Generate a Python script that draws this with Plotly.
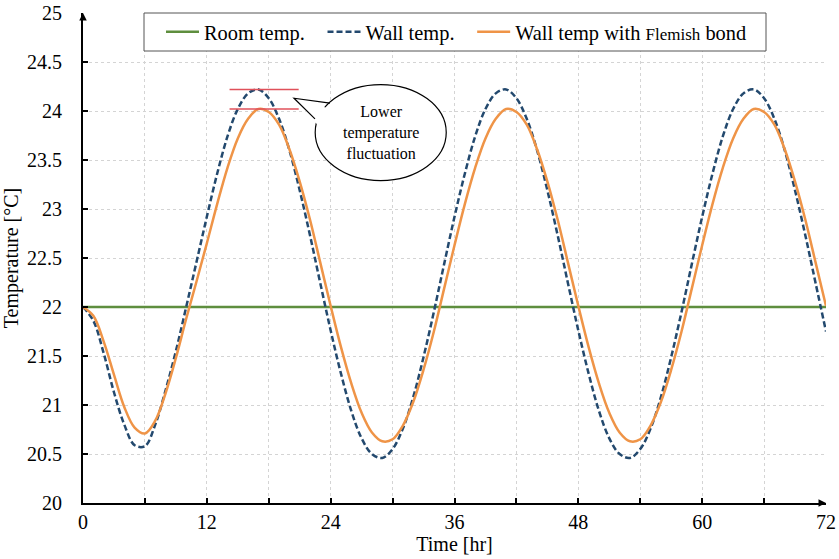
import plotly.graph_objects as go

# ---- data ----
hours = list(range(0, 73))
room_hours = [0, 72]
room_temp = [22.0, 22.0]
wall_temp = [22.00, 21.86, 21.53, 21.13, 20.80, 20.59, 20.58, 20.80, 21.15, 21.55,
             22.00, 22.46, 22.92, 23.36, 23.74, 24.02, 24.18, 24.22, 24.13, 23.92,
             23.60, 23.19, 22.73, 22.24, 21.76, 21.32, 20.94, 20.66, 20.50, 20.46,
             20.55, 20.76, 21.08, 21.49, 21.95, 22.44, 22.92, 23.36, 23.74, 24.02,
             24.18, 24.22, 24.13, 23.92, 23.60, 23.19, 22.73, 22.24, 21.76, 21.32,
             20.94, 20.66, 20.50, 20.46, 20.55, 20.76, 21.08, 21.49, 21.95, 22.44,
             22.92, 23.36, 23.74, 24.02, 24.18, 24.22, 24.13, 23.92, 23.60, 23.19,
             22.73, 22.24, 21.75]
flemish_temp = [22.00, 21.91, 21.65, 21.31, 20.98, 20.77, 20.71, 20.84, 21.12, 21.48,
                21.88, 22.26, 22.65, 23.05, 23.42, 23.72, 23.92, 24.02, 23.99, 23.86,
                23.61, 23.28, 22.89, 22.45, 22.01, 21.59, 21.22, 20.92, 20.72, 20.63,
                20.65, 20.79, 21.03, 21.36, 21.75, 22.19, 22.63, 23.05, 23.42, 23.72,
                23.92, 24.02, 23.99, 23.86, 23.61, 23.28, 22.89, 22.45, 22.01, 21.59,
                21.22, 20.92, 20.72, 20.63, 20.65, 20.79, 21.03, 21.36, 21.75, 22.19,
                22.63, 23.05, 23.42, 23.72, 23.92, 24.02, 23.99, 23.86, 23.61, 23.28,
                22.89, 22.45, 22.01]
GAP = '&nbsp;&nbsp;<span style="font-size:10px">&nbsp;</span>'
series_names = ["Room temp." + GAP, "Wall temp." + GAP,
                'Wall temp with <span style="font-size:17px">Flemish</span> bond']
callout_text = "Lower<br>temperature<br>fluctuation"
x_ticks = [0, 12, 24, 36, 48, 60, 72]

FONT = "Liberation Serif, Times New Roman, serif"
GREEN = "#5E8E3E"
NAVY = "#23496E"
ORANGE = "#EF9447"
RED = "#E0505A"
GRID = "#D4D4D4"

# plot-area geometry (pixels) used to place the legend frame
PLOT_L, PLOT_W, PLOT_T, PLOT_H = 83, 743, 13, 490

def px_x(p):
    return (p - PLOT_L) / PLOT_W

def px_y(p):
    return (PLOT_T + PLOT_H - p) / PLOT_H

fig = go.Figure()
fig.add_trace(go.Scatter(x=room_hours, y=room_temp, mode="lines", name=series_names[0],
                         line=dict(color=GREEN, width=2.5)))
fig.add_trace(go.Scatter(x=hours, y=wall_temp, mode="lines", name=series_names[1],
                         line=dict(color=NAVY, width=2.5, dash="6px,3px", shape="spline", smoothing=1.0)))
fig.add_trace(go.Scatter(x=hours, y=flemish_temp, mode="lines", name=series_names[2],
                         line=dict(color=ORANGE, width=2.5, shape="spline", smoothing=1.0)))

# red peak markers
for level in (max(wall_temp), max(flemish_temp)):
    fig.add_shape(type="line", x0=14.2, x1=20.9, y0=level, y1=level,
                  line=dict(color=RED, width=1.6), layer="above")

# speech bubble
fig.add_shape(type="circle", x0=22.5, x1=35.2, y0=23.29, y1=24.27,
              fillcolor="white", line=dict(color="black", width=1.2), layer="above")
fig.add_shape(type="path", path="M 24.0 24.02 L 20.45 24.13 L 22.8 23.85 Z",
              fillcolor="white", line=dict(width=0), layer="above")
fig.add_shape(type="path", path="M 23.93 24.08 L 20.45 24.13 L 22.48 23.92",
              line=dict(color="black", width=1.2), layer="above")
fig.add_annotation(x=28.85, y=23.78, text=callout_text, showarrow=False,
                   font=dict(family=FONT, size=16, color="black"), align="center")

# legend frame
fig.add_shape(type="rect", xref="paper", yref="paper",
              x0=px_x(144), x1=px_x(766), y0=px_y(51), y1=px_y(13),
              fillcolor="white", line=dict(color="#555555", width=1), layer="above")

# axis arrows
fig.add_annotation(xref="paper", yref="paper", x=0, y=1.0, ax=0, ay=8, text="",
                   showarrow=True, arrowhead=2, arrowsize=1, arrowwidth=1.5, arrowcolor="black")
fig.add_annotation(xref="paper", yref="paper", x=1.0, y=0, ax=-8, ay=0, text="",
                   showarrow=True, arrowhead=2, arrowsize=1, arrowwidth=1.5, arrowcolor="black")

fig.update_layout(
    width=839, height=559,
    margin=dict(l=83, r=13, t=13, b=56, autoexpand=False),
    paper_bgcolor="white", plot_bgcolor="white",
    font=dict(family=FONT, size=20, color="black"),
    showlegend=True,
    legend=dict(orientation="h", x=px_x(161), xanchor="left", y=px_y(32), yanchor="middle",
                bgcolor="rgba(0,0,0,0)", borderwidth=0,
                font=dict(family=FONT, size=20.4, color="black"),
                itemwidth=33),
    xaxis=dict(range=[0, 72], tickvals=x_ticks, ticks="inside", ticklen=5, tickwidth=1.5,
               tickcolor="black", showline=True, linecolor="black", linewidth=2,
               showgrid=True, gridcolor=GRID, griddash="3px,3px", gridwidth=1,
               minor=dict(dtick=6, ticks="inside", ticklen=5, tickwidth=1.5, tickcolor="black",
                          showgrid=True, gridcolor=GRID, griddash="3px,3px", gridwidth=1),
               zeroline=False, automargin=False,
               title=dict(text="Time [hr]", standoff=0, font=dict(size=20)),
               tickfont=dict(size=20)),
    yaxis=dict(range=[20, 25], dtick=0.5, tick0=20, ticks="inside", ticklen=5, tickwidth=1.5,
               tickcolor="black", showline=True, linecolor="black", linewidth=2,
               showgrid=True, gridcolor=GRID, griddash="3px,3px", gridwidth=1,
               zeroline=False, ticklabelstandoff=15, automargin=False,
               title=dict(text="Temperature [°C]", standoff=4, font=dict(size=20)),
               tickfont=dict(size=20)),
)

fig.write_html("out.html")
